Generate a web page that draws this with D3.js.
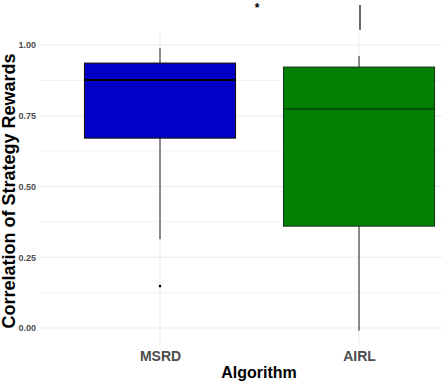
<!DOCTYPE html>
<html><head><meta charset="utf-8">
<script src="https://cdn.jsdelivr.net/npm/d3@7"></script>
<style>html,body{margin:0;padding:0;background:#fff;}svg{display:block;font-family:"Liberation Sans",Arial,sans-serif;}</style>
</head><body>
<script>
const categories = ["MSRD", "AIRL"];
const lowerWhisker = [0.314, -0.01];
const q1 = [0.671, 0.36];
const medians = [0.876, 0.774];
const q3 = [0.936, 0.922];
const upperWhisker = [0.99, 0.961];
const outliers = [[0.148], []];
const fills = ["#0000C8", "#007F00"];
const yTicks = [0, 0.25, 0.5, 0.75, 1.0];
const yMinor = [0.125, 0.375, 0.625, 0.875];

const W = 442, H = 382;
const svg = d3.select("body").append("svg").attr("width", W).attr("height", H);
const panel = {left: 40, right: 478, top: 33, bottom: 345};

const x = d3.scalePoint().domain(categories).range([160, 359]);
const y = d3.scaleLinear().domain([0, 1]).range([328, 45]);
const boxW = 151;

// gridlines
const g = svg.append("g");
g.selectAll(".minor").data(yMinor).enter().append("line")
  .attr("x1", panel.left).attr("x2", W).attr("y1", d => y(d)).attr("y2", d => y(d))
  .attr("stroke", "#f3f3f3").attr("stroke-width", 1);
g.selectAll(".major").data(yTicks).enter().append("line")
  .attr("x1", panel.left).attr("x2", W).attr("y1", d => y(d)).attr("y2", d => y(d))
  .attr("stroke", "#ebebeb").attr("stroke-width", 1);
g.selectAll(".vmajor").data(categories).enter().append("line")
  .attr("x1", d => x(d)).attr("x2", d => x(d)).attr("y1", panel.top).attr("y2", panel.bottom)
  .attr("stroke", "#ebebeb").attr("stroke-width", 1);

// boxes
categories.forEach((c, i) => {
  const cx = x(c);
  const bg = svg.append("g");
  bg.append("line").attr("x1", cx).attr("x2", cx).attr("y1", y(q3[i])).attr("y2", y(upperWhisker[i]))
    .attr("stroke", "#333").attr("stroke-width", 1.1);
  bg.append("line").attr("x1", cx).attr("x2", cx).attr("y1", y(q1[i])).attr("y2", y(lowerWhisker[i]))
    .attr("stroke", "#333").attr("stroke-width", 1.1);
  bg.append("rect").attr("x", cx - boxW / 2).attr("width", boxW)
    .attr("y", y(q3[i])).attr("height", y(q1[i]) - y(q3[i]))
    .attr("fill", fills[i]).attr("stroke", i === 0 ? "#111" : "#1a3a1a").attr("stroke-width", 1.1);
  bg.append("line").attr("x1", cx - boxW / 2).attr("x2", cx + boxW / 2)
    .attr("y1", y(medians[i])).attr("y2", y(medians[i]))
    .attr("stroke", i === 0 ? "#000" : "#0a3a0a").attr("stroke-width", i === 0 ? 2 : 1.3);
  bg.selectAll("circle").data(outliers[i]).enter().append("circle")
    .attr("cx", cx).attr("cy", d => y(d)).attr("r", 1.3).attr("fill", "#000");
});

// significance marker above AIRL
svg.append("line").attr("x1", x("AIRL") + 1).attr("x2", x("AIRL") + 1).attr("y1", 5).attr("y2", 30)
  .attr("stroke", "#000").attr("stroke-width", 1.2);
svg.append("text").attr("x", 257).attr("y", 12).attr("text-anchor", "middle")
  .attr("font-size", 12).attr("font-weight", "bold").attr("fill", "#000").text("*");

// y axis
const yAxis = d3.axisLeft(y).tickValues(yTicks).tickFormat(d3.format(".2f")).tickSize(0).tickPadding(4);
const ya = svg.append("g").attr("transform", `translate(${panel.left},0)`).call(yAxis);
ya.select(".domain").remove();
ya.selectAll("text").attr("font-size", 9).attr("font-weight", "bold").attr("fill", "#4d4d4d")
  .attr("font-family", "Liberation Sans, Arial, sans-serif");

// x axis
const xAxis = d3.axisBottom(x).tickSize(0).tickPadding(6);
const xa = svg.append("g").attr("transform", `translate(0,${panel.bottom})`).call(xAxis);
xa.select(".domain").remove();
xa.selectAll("text").attr("font-size", 14).attr("font-weight", "bold").attr("fill", "#4d4d4d")
  .attr("font-family", "Liberation Sans, Arial, sans-serif");

// titles
svg.append("text").attr("x", 259).attr("y", 378).attr("text-anchor", "middle")
  .attr("font-size", 16).attr("font-weight", "bold").attr("fill", "#000").text("Algorithm");
svg.append("text").attr("transform", "translate(15,191) rotate(-90)").attr("text-anchor", "middle")
  .attr("font-size", 18).attr("font-weight", "bold").attr("fill", "#000").text("Correlation of Strategy Rewards");
</script>
</body></html>
